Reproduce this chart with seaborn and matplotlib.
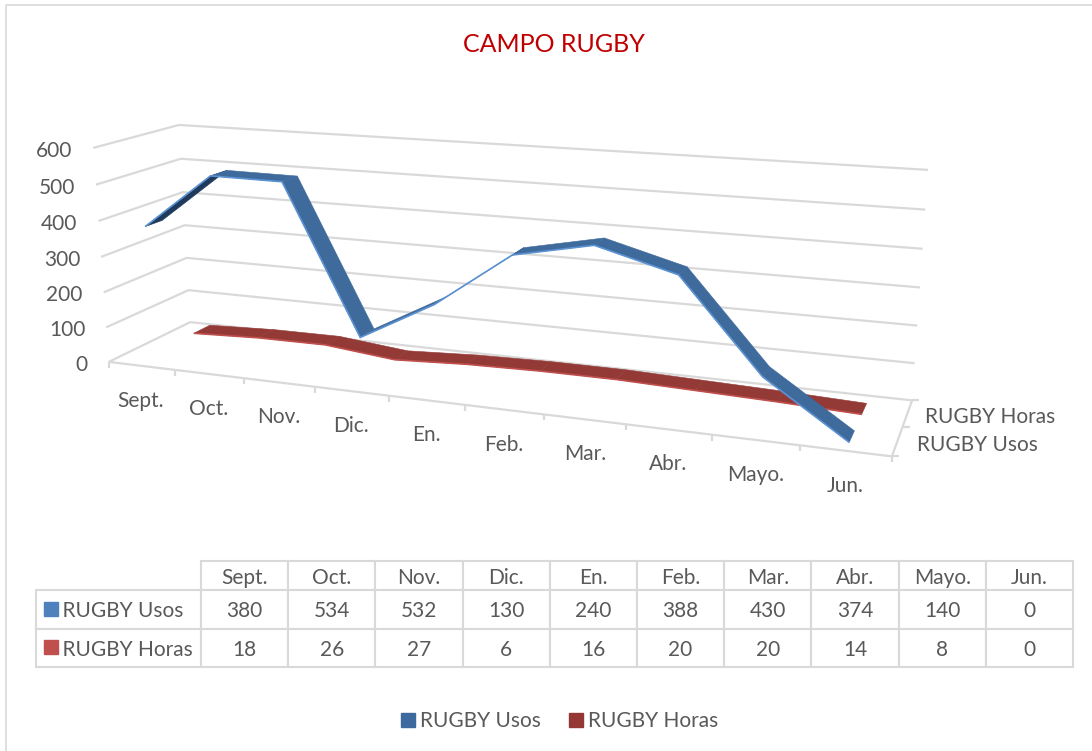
# Campo rugby: linea 3D de Excel con tabla de datos
import numpy as np
import pandas as pd
import matplotlib.pyplot as plt
import seaborn as sns
from matplotlib.patches import Patch, Rectangle

meses = ['Sept.', 'Oct.', 'Nov.', 'Dic.', 'En.', 'Feb.', 'Mar.', 'Abr.', 'Mayo.', 'Jun.']
rugby_usos = [380, 534, 532, 130, 240, 388, 430, 374, 140, 0]
rugby_horas = [18, 26, 27, 6, 16, 20, 20, 14, 8, 0]
valores_eje = [0, 100, 200, 300, 400, 500, 600]
series = ['RUGBY Usos', 'RUGBY Horas']

sns.set_theme(style='white')
plt.rcParams['font.family'] = ['Lato', 'DejaVu Sans']

GRIS = '#d9d9d9'
TEXTO = '#595959'

# Camara: (mes, valor, profundidad) -> pixel, ajustada a las esquinas de la caja
refs = [
    (0, 0, 0, 109, 362), (10, 0, 0, 892, 456), (0, 600, 0, 93, 148),
    (0, 300, 0, 101, 257), (0, 0, 1, 190, 322), (0, 600, 1, 179, 125),
    (0, 300, 1, 185, 225), (10, 0, 1, 912, 401), (10, 600, 1, 928, 170),
    (10, 300, 1, 920, 287),
]
filas = []
for m, v, d, px, py in refs:
    w = [m / 10, v / 600, d, 1]
    filas.append(w + [0, 0, 0, 0] + [-px * c for c in w])
    filas.append([0, 0, 0, 0] + w + [-py * c for c in w])
P = np.linalg.svd(np.array(filas))[2][-1].reshape(3, 4)


def proyectar(m, v, d):
    m, v, d = np.broadcast_arrays(np.asarray(m, float), np.asarray(v, float), np.asarray(d, float))
    w = np.stack([m / 10, v / 600, d, np.ones_like(m)])
    u = P @ w
    return u[0] / u[2], u[1] / u[2]


def linea(ax, xs, ys, color=GRIS, lw=1.6, z=1):
    # sort=False para respetar el orden del trazo
    sns.lineplot(x=xs, y=ys, ax=ax, color=color, linewidth=lw, sort=False,
                 estimator=None, errorbar=None, zorder=z, solid_capstyle='butt')


def cinta(ax, valores, d0, d1, cara, sombra, borde, z):
    # un cuadrilatero por tramo, oscuro si se ve la parte de abajo
    pos = np.arange(len(valores)) + 0.5
    for i in range(len(valores) - 1):
        mm = pos[i:i + 2]
        vv = np.array(valores[i:i + 2])
        x0, y0 = proyectar(mm, vv, d0)
        x1, y1 = proyectar(mm, vv, d1)
        xs = np.r_[x0, x1[::-1]]
        ys = np.r_[y0, y1[::-1]]
        area = 0.5 * np.sum(xs * np.roll(ys, -1) - np.roll(xs, -1) * ys)
        ax.fill(xs, ys, color=cara if area < 0 else sombra, lw=0.4, zorder=z)
    xf, yf = proyectar(pos, valores, d0)
    linea(ax, xf, yf, color=borde, lw=1.2, z=z + 0.1)


fig = plt.figure(figsize=(10.92, 7.51), dpi=100)
ax = fig.add_axes([0, 0, 1, 1])

# paredes y piso
for v in valores_eje:
    xs, ys = proyectar([0, 0, 10], v, [0, 1, 1])
    linea(ax, xs, ys)
    tx, ty = proyectar(0, v, 0)
    ax.text(tx - 21, ty + 3, str(v), ha='right', va='center', fontsize=15, color=TEXTO)

xs, ys = proyectar([0, 10], 0, [0, 0])
linea(ax, xs, ys)
xs, ys = proyectar([10, 10], 0, [0, 1])
linea(ax, xs, ys)
for i in range(len(meses) + 1):
    xs, ys = proyectar(i, 0, 0)
    linea(ax, [xs, xs], [ys, ys + 6])
for d in [0, 0.5, 1]:
    xs, ys = proyectar(10, 0, d)
    linea(ax, [xs, xs + 7], [ys, ys])

for i, mes in enumerate(meses):
    xs, ys = proyectar(i + 0.5, 0, 0)
    ax.text(xs - 1 + 0.13 * i, ys + 35, mes, ha='center', va='center', fontsize=15, color=TEXTO)

for d, nombre, dx in [(0.75, series[1], 18), (0.25, series[0], 20)]:
    xs, ys = proyectar(10, 0, d)
    ax.text(xs + dx, ys + 4, nombre, ha='left', va='center', fontsize=15, color=TEXTO)

cinta(ax, rugby_horas, 0.64, 0.85, '#933a37', '#933a37', '#c0504d', 3)
cinta(ax, rugby_usos, 0.14, 0.34, '#3f6a9c', '#1f3a5c', '#5b93d3', 4)

ax.text(554, 45, 'CAMPO RUGBY', ha='center', va='center', fontsize=18, color='#c00000')

# tabla de datos
tabla_df = pd.DataFrame([rugby_usos, rugby_horas], index=series, columns=meses)
celdas = [[''] + meses]
for nombre in series:
    celdas.append(['    ' + nombre] + [str(n) for n in tabla_df.loc[nombre]])
anchos = [165 / 1037] + [87.2 / 1037] * len(meses)
tabla = ax.table(cellText=celdas, colWidths=anchos, cellLoc='center',
                 bbox=[36 / 1092, 1 - 667 / 751, 1037 / 1092, 106 / 751])
tabla.auto_set_font_size(False)
altos = [29, 38.5, 38.5]
for (f, c), celda in tabla.get_celld().items():
    celda.set_edgecolor(GRIS)
    celda.set_linewidth(1.5)
    celda.set_height(altos[f] / 106)
    celda.get_text().set_fontsize(15)
    celda.get_text().set_color(TEXTO)
    celda.get_text().set_va('center_baseline')
    if c == 0:
        celda.get_text().set_ha('left')
        celda.PAD = 0.03
        celda._loc = 'left'
tabla[(0, 0)].visible_edges = ''
tabla[(0, 0)].set_edgecolor('none')
ax.add_patch(Rectangle((44, 602), 14, 14, color='#4f81bd', zorder=6))
ax.add_patch(Rectangle((44, 640), 14, 14, color='#c0504d', zorder=6))

# leyenda de abajo
manijas = [Patch(color='#3d6a9e', label=series[0]), Patch(color='#943634', label=series[1])]
ax.legend(handles=manijas, ncols=2, frameon=False, fontsize=15, labelcolor=TEXTO,
          loc='center', bbox_to_anchor=(559.5 / 1092, 1 - 721 / 751),
          handlelength=0.67, handleheight=0.67, handletextpad=0.25, columnspacing=1.35)

# marco del grafico
linea(ax, [6, 6, 1092], [751, 5, 5], lw=1.2)

ax.set_xlim(0, 1092)
ax.set_ylim(751, 0)
ax.axis('off')
fig.savefig('out.png', dpi=100)
